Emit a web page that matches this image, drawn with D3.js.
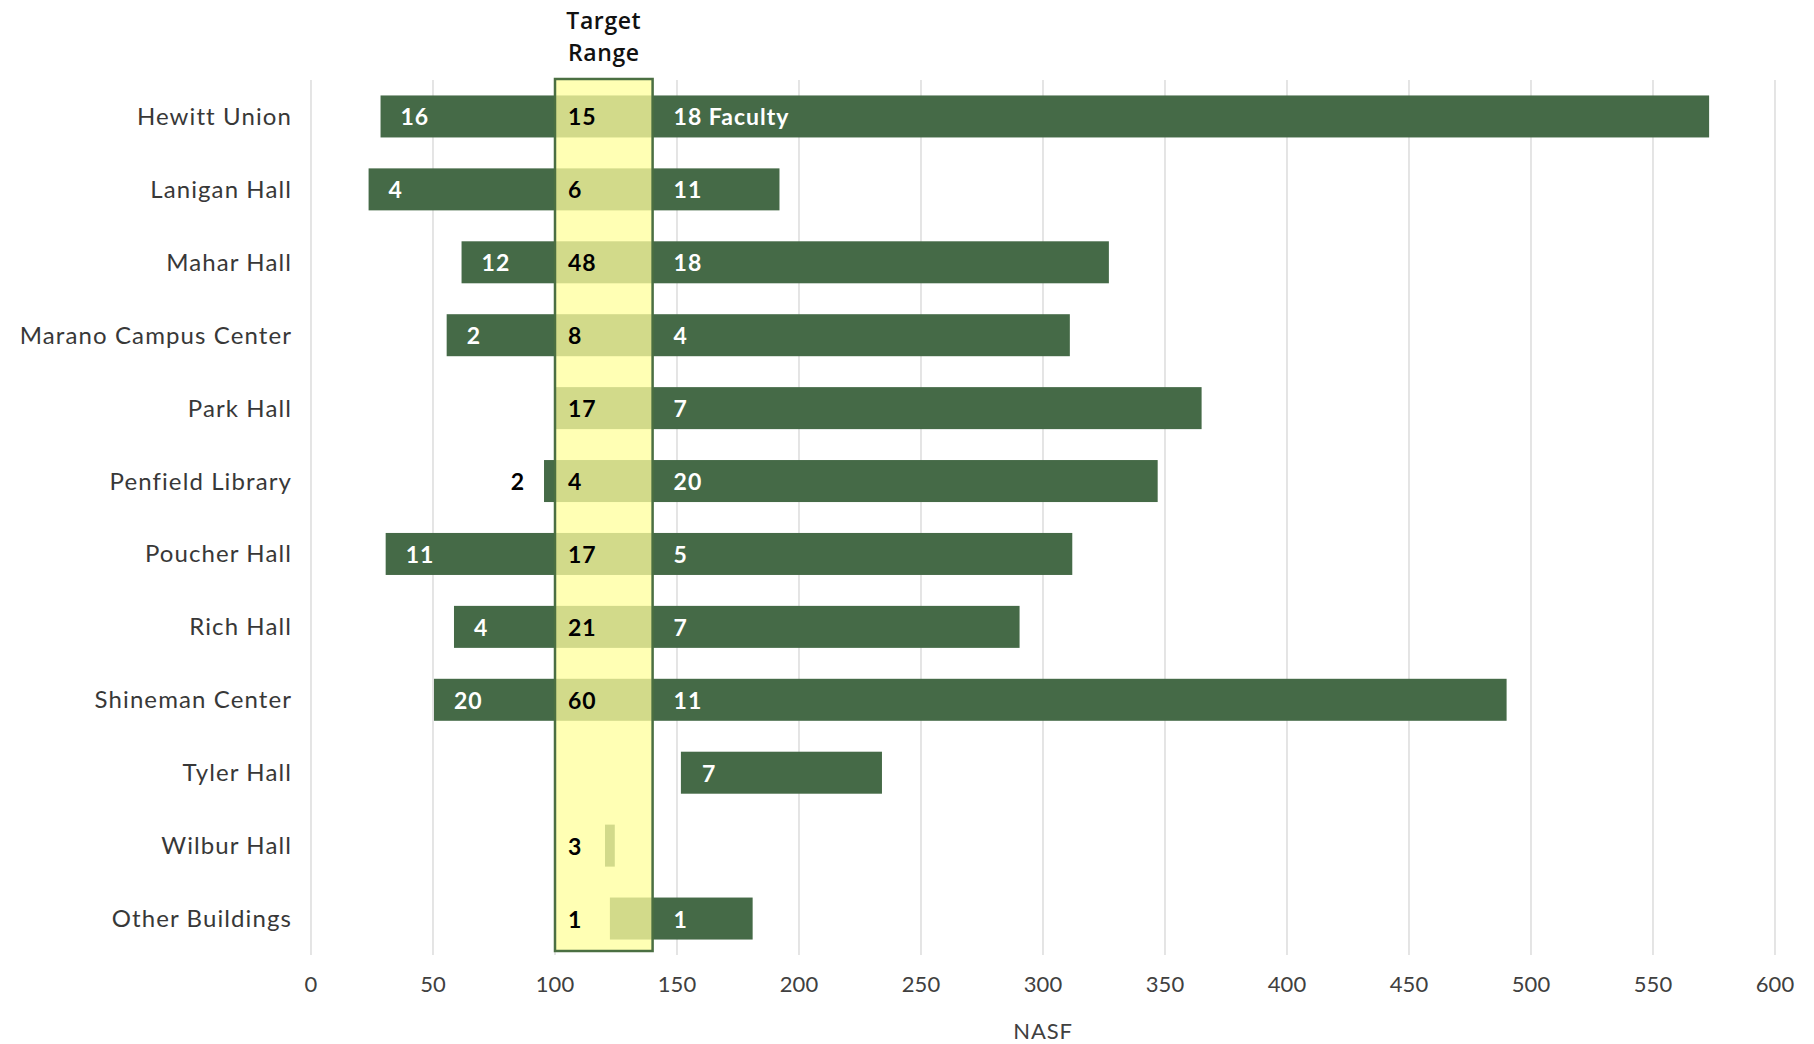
<!DOCTYPE html>
<html><head><meta charset="utf-8">
<script src="https://cdn.jsdelivr.net/npm/d3@7"></script>
<style>
html,body{margin:0;padding:0;background:#fff;}
svg{display:block;}
</style></head>
<body>
<svg id="chart" width="1814" height="1044"></svg>
<script>
// ---- data ----
const categories = ["Hewitt Union","Lanigan Hall","Mahar Hall","Marano Campus Center","Park Hall","Penfield Library","Poucher Hall","Rich Hall","Shineman Center","Tyler Hall","Wilbur Hall","Other Buildings"];
const lowStart  = [28.5, 23.6, 61.7, 55.6, null, 95.5, 30.6, 58.6, 50.4, null, null, null];
const lowEnd    = [100, 100, 100, 100, null, 100, 100, 100, 100, null, null, null];
const midStart  = [100, 100, 100, 100, 100, 100, 100, 100, 100, null, 120.5, 122.5];
const midEnd    = [140, 140, 140, 140, 140, 140, 140, 140, 140, null, 124.5, 140];
const highStart = [140, 140, 140, 140, 140, 140, 140, 140, 140, 151.6, null, 140];
const highEnd   = [573, 192, 327, 311, 365, 347, 312, 290.4, 490, 234, null, 181];
const lowLabels  = ["16","4","12","2",null,"2","11","4","20",null,null,null];
const midLabels  = ["15","6","48","8","17","4","17","21","60",null,"3","1"];
const highLabels = ["18 Faculty","11","18","4","7","20","5","7","11","7",null,"1"];
const targetRange = [100, 140];
const xTicks = [0,50,100,150,200,250,300,350,400,450,500,550,600];
const xTitle = "NASF";
const targetTitle = ["Target","Range"];

// ---- layout ----
const svg = d3.select("#chart");
const L = 311, R = 1775, T = 80, B = 955;
const x = d3.scaleLinear().domain([0,600]).range([L,R]);
const y = d3.scaleBand().domain(categories).range([T,B]).paddingInner(0.424).paddingOuter(0.212);

const dark = "#456a47", mid = "#d2da8a", boxFill = "#ffffb4", boxStroke = "#4b6f42";
const font = "Lato, 'Open Sans', sans-serif";

// gridlines
svg.append("g").selectAll("line").data(xTicks).join("line")
  .attr("x1", d=>x(d)).attr("x2", d=>x(d)).attr("y1", T).attr("y2", B)
  .attr("stroke", "#d3d3d3").attr("stroke-width", 1.2);

// tick labels
svg.append("g").selectAll("text").data(xTicks).join("text")
  .attr("x", d=>x(d)).attr("y", 983).attr("text-anchor","middle").attr("dominant-baseline","central")
  .attr("font-family", font).attr("font-size", 22).attr("fill","#404040").text(d=>d);

// axis title
svg.append("text").attr("x",(L+R)/2).attr("y",1030).attr("text-anchor","middle").attr("dominant-baseline","central")
  .attr("font-family", font).attr("font-size", 22).attr("letter-spacing", 0.8).attr("fill","#404040").text(xTitle);

// target box fill
svg.append("rect").attr("x", x(targetRange[0])).attr("y", 79)
  .attr("width", x(targetRange[1]) - x(targetRange[0])).attr("height", 951-79)
  .attr("fill", boxFill);

// category labels
svg.append("g").selectAll("text").data(categories).join("text")
  .attr("x", 292).attr("y", d=>y(d)+y.bandwidth()/2 - 1).attr("text-anchor","end").attr("dominant-baseline","central")
  .attr("font-family", font).attr("font-size", 24).attr("letter-spacing", 1.1).attr("fill","#383838").text(d=>d);

const idx = d3.range(categories.length);
const bh = y.bandwidth();

// low segments
const g = svg.append("g");
g.selectAll("rect.low").data(idx.filter(i=>lowStart[i]!=null)).join("rect")
  .attr("x", i=>x(lowStart[i])).attr("width", i=>x(lowEnd[i])-x(lowStart[i]))
  .attr("y", i=>y(categories[i])).attr("height", bh).attr("fill", dark);
// mid segments
g.selectAll("rect.mid").data(idx.filter(i=>midStart[i]!=null)).join("rect")
  .attr("x", i=>x(midStart[i])).attr("width", i=>x(midEnd[i])-x(midStart[i]))
  .attr("y", i=>y(categories[i])).attr("height", bh).attr("fill", mid);
// high segments
g.selectAll("rect.high").data(idx.filter(i=>highStart[i]!=null)).join("rect")
  .attr("x", i=>x(highStart[i])).attr("width", i=>x(highEnd[i])-x(highStart[i]))
  .attr("y", i=>y(categories[i])).attr("height", bh).attr("fill", dark);

// target box outline
svg.append("rect").attr("x", x(targetRange[0])).attr("y", 79)
  .attr("width", x(targetRange[1]) - x(targetRange[0])).attr("height", 951-79)
  .attr("fill", "none").attr("stroke", boxStroke).attr("stroke-width", 2.5);

// target title
svg.append("g").selectAll("text").data(targetTitle).join("text")
  .attr("x", (x(targetRange[0])+x(targetRange[1]))/2).attr("y",(d,i)=>20+i*32)
  .attr("text-anchor","middle").attr("dominant-baseline","central")
  .attr("font-family", "'Open Sans', sans-serif").attr("font-size", 23).attr("font-weight", 600)
  .attr("letter-spacing", 0.6).attr("fill","#111").text(d=>d);

// data labels
const lab = svg.append("g").attr("font-family", font).attr("font-size", 23).attr("font-weight","bold").attr("letter-spacing", 1);
idx.forEach(i=>{
  const cy = y(categories[i]) + bh/2;
  if (lowLabels[i]!=null) {
    const w = x(lowEnd[i]) - x(lowStart[i]);
    if (w > 40) {
      lab.append("text").attr("x", x(lowStart[i])+20).attr("y", cy).attr("dominant-baseline","central")
        .attr("fill","#fff").text(lowLabels[i]);
    } else {
      lab.append("text").attr("x", x(lowStart[i])-19).attr("y", cy).attr("dominant-baseline","central")
        .attr("text-anchor","end").attr("fill","#000").text(lowLabels[i]);
    }
  }
  if (midLabels[i]!=null) {
    lab.append("text").attr("x", x(targetRange[0])+13).attr("y", cy).attr("dominant-baseline","central")
      .attr("fill","#000").text(midLabels[i]);
  }
  if (highLabels[i]!=null) {
    lab.append("text").attr("x", x(highStart[i])+21).attr("y", cy).attr("dominant-baseline","central")
      .attr("fill","#fff").text(highLabels[i]);
  }
});
</script>
</body></html>
